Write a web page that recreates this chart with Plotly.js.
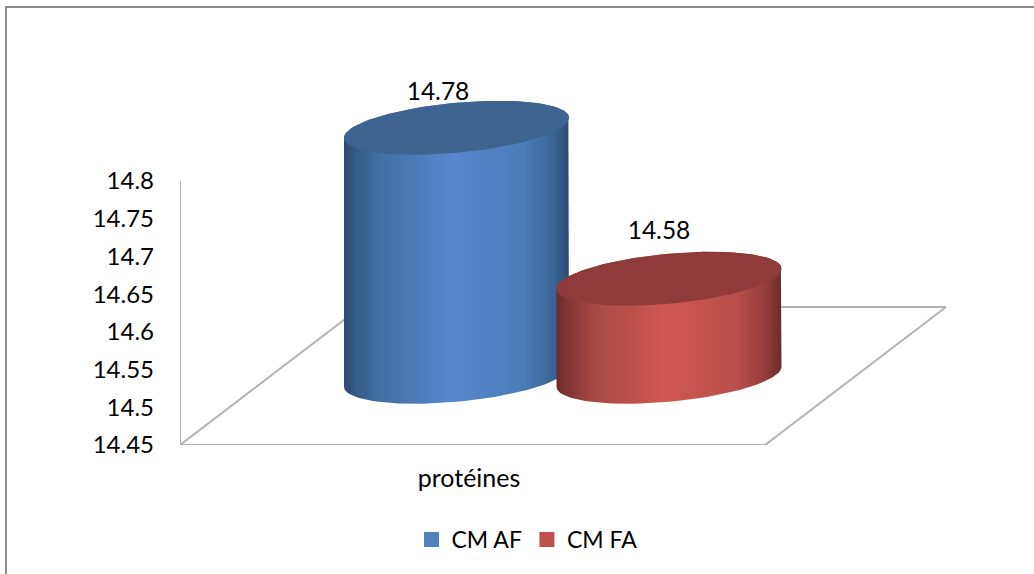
<!DOCTYPE html>
<html>
<head>
<meta charset="utf-8">
<script src="https://cdn.plot.ly/plotly-3.0.1.min.js"></script>
<style>html,body{margin:0;padding:0;background:#fff;overflow:hidden}</style>
</head>
<body>
<div id="chart" style="width:1034px;height:574px"></div>
<script>
// Chart values
const categories = ['protéines'];
const seriesNames = ['CM AF', 'CM FA'];
const seriesValues = [14.78, 14.58];
const tickValues = [14.45, 14.5, 14.55, 14.6, 14.65, 14.7, 14.75, 14.8];
const tickLabels = ['14.45', '14.5', '14.55', '14.6', '14.65', '14.7', '14.75', '14.8'];

// Series colours: legend swatch, cap and side shading
const swatchColors = ['#4f81bd', '#c0504d'];
const capColors = ['#3f6491', '#8f3b39'];
const sideShades = [
  [[0, '#2b4a73'], [0.05, '#345a88'], [0.16, '#426fa3'], [0.48, '#5688cc'], [0.8, '#4a7cb8'], [0.93, '#3b6597'], [1, '#2c4a72']],
  [[0, '#6a2c2a'], [0.05, '#7f3533'], [0.16, '#a64744'], [0.48, '#d05853'], [0.8, '#b94e4a'], [0.93, '#933d3b'], [1, '#6a2c2a']]
];

// 3D-look geometry (x in floor units, y in value units)
const yBase = 14.45;
const yTop = 14.8;
const unitsPerPixel = (yTop - yBase) / 264;
const floorWidth = 585;
const floorSkewX = 181;
const floorDepthY = 0.183;
const cylinderCenters = [276.5, 489];
const cylinderRadiusX = 112.5;
const cylinderDepthY = 0.0905;
const ellipseMinorY = 0.0332;
const ellipseTiltY = 0.0133;
const categoryPosition = 289;
const labelOffsets = [[-18.5, 0.135], [-10, 0.151]];

// Ellipse outline from angle a0 to a1 in steps of 3 degrees
function ellipse(cx, cy, a0, a1) {
  const xs = [], ys = [];
  const step = a1 > a0 ? 3 : -3;
  for (let d = a0; step > 0 ? d <= a1 : d >= a1; d += step) {
    const t = d * Math.PI / 180;
    xs.push(cx + cylinderRadiusX * Math.cos(t));
    ys.push(cy + ellipseTiltY * Math.cos(t) + ellipseMinorY * Math.sin(t));
  }
  return { xs, ys };
}

const traces = [];

// Value axis line and floor outline
traces.push({
  type: 'scatter', mode: 'lines', cliponaxis: false, showlegend: false, hoverinfo: 'skip',
  x: [0, 0, floorSkewX, floorSkewX + floorWidth, floorWidth, 0],
  y: [yTop, yBase, yBase + floorDepthY, yBase + floorDepthY, yBase, yBase],
  line: { color: '#b3b3b3', width: 2 }
});

// One cylinder per series: shaded side, then darker cap
seriesValues.forEach((v, i) => {
  const cx = cylinderCenters[i];
  const base = ellipse(cx, yBase + cylinderDepthY, 180, 360);
  const rim = ellipse(cx, v + cylinderDepthY, 0, 180);
  const cap = ellipse(cx, v + cylinderDepthY, 0, 360);
  traces.push({
    type: 'scatter', mode: 'lines', cliponaxis: false, showlegend: false, hoverinfo: 'skip',
    x: base.xs.concat(rim.xs),
    y: base.ys.concat(rim.ys),
    fill: 'toself',
    fillgradient: { type: 'horizontal', colorscale: sideShades[i] },
    line: { width: 0, color: 'rgba(0,0,0,0)' }
  });
  traces.push({
    type: 'scatter', mode: 'lines', cliponaxis: false, showlegend: false, hoverinfo: 'skip',
    x: cap.xs, y: cap.ys,
    fill: 'toself', fillcolor: capColors[i],
    line: { width: 0, color: 'rgba(0,0,0,0)' }
  });
});

// Value labels
traces.push({
  type: 'scatter', mode: 'text', cliponaxis: false, showlegend: false, hoverinfo: 'skip',
  x: seriesValues.map((v, i) => cylinderCenters[i] + labelOffsets[i][0]),
  y: seriesValues.map((v, i) => v + labelOffsets[i][1]),
  text: seriesValues.map(v => v.toFixed(2)),
  textposition: 'middle center',
  textfont: { family: 'Lato, Carlito, sans-serif', size: 24.5, color: '#000' }
});

// Legend entries
seriesNames.forEach((name, i) => {
  traces.push({
    type: 'scatter', mode: 'markers', name, x: [null], y: [null],
    marker: { symbol: 'square', size: 15, color: swatchColors[i] }
  });
});

// The plot area runs well above the axis top so the tall cylinder is not cut off
const plotLeft = 180, plotWidth = 766, plotTop = 20, plotBottomEdge = 445;
const plotHeight = plotBottomEdge - plotTop;
const paperX = px => (px - plotLeft) / plotWidth;
const paperY = py => (plotBottomEdge - py) / plotHeight;

const layout = {
  width: 1034, height: 574,
  margin: { l: plotLeft, r: 1034 - plotLeft - plotWidth, t: plotTop, b: 574 - plotBottomEdge, pad: 0, autoexpand: false },
  paper_bgcolor: '#fff', plot_bgcolor: 'rgba(0,0,0,0)',
  font: { family: 'Lato, Carlito, sans-serif', size: 23, color: '#000' },
  showlegend: true,
  legend: {
    orientation: 'h', x: paperX(411.5), y: paperY(518), xanchor: 'left', yanchor: 'top',
    font: { size: 23, color: '#000' }, bgcolor: 'rgba(0,0,0,0)', traceorder: 'normal'
  },
  xaxis: {
    range: [0, plotWidth], showgrid: false, zeroline: false, showline: false,
    tickmode: 'array', tickvals: [categoryPosition], ticktext: categories,
    ticks: '', ticklabelstandoff: 16, tickfont: { size: 25 }, fixedrange: true
  },
  yaxis: {
    range: [yBase, yBase + plotHeight * unitsPerPixel], showgrid: false, zeroline: false,
    showline: false,
    tickmode: 'array', tickvals: tickValues, ticktext: tickLabels,
    ticks: '', ticklabelstandoff: 25, tickfont: { size: 24 }, fixedrange: true
  },
  shapes: [
    { type: 'line', xref: 'paper', yref: 'paper', x0: paperX(6), x1: paperX(1034), y0: paperY(7), y1: paperY(7), line: { color: '#8c8c8c', width: 2 } },
    { type: 'line', xref: 'paper', yref: 'paper', x0: paperX(6), x1: paperX(6), y0: paperY(6), y1: paperY(574), line: { color: '#8c8c8c', width: 2 } }
  ]
};

Plotly.newPlot('chart', traces, layout, { staticPlot: true, displayModeBar: false });
</script>
</body>
</html>
